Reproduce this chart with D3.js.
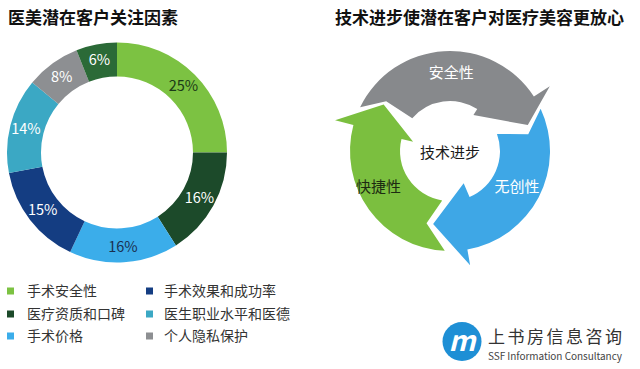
<!DOCTYPE html>
<html>
<head>
<meta charset="utf-8">
<script src="https://cdn.jsdelivr.net/npm/d3@7/dist/d3.min.js"></script>
<style>
  html, body { margin: 0; padding: 0; background: #ffffff; }
  svg { display: block; }
  text { font-family: "Noto Sans CJK SC", "Noto Sans", sans-serif; }
</style>
</head>
<body>
<svg id="chart" width="640" height="369"></svg>
<script>
// ---------- data ----------
const leftTitle = "医美潜在客户关注因素";
const rightTitle = "技术进步使潜在客户对医疗美容更放心";
const categories = ["手术安全性", "医疗资质和口碑", "手术价格", "手术效果和成功率", "医生职业水平和医德", "个人隐私保护", "其他"];
const values = [25, 16, 16, 15, 14, 8, 6];
const colors = ["#7cc242", "#1c4a2a", "#3badea", "#143d82", "#3ba8c4", "#8d8f92", "#2b6a37"];
const labelColors = ["#1b3a17", "#ffffff", "#1a3050", "#ffffff", "#ffffff", "#ffffff", "#ffffff"];
const legendOrder = [0, 3, 1, 4, 2, 5]; // two columns, row-major
const cycleLabels = ["安全性", "无创性", "快捷性"];
const cycleColors = ["#87898c", "#3ea7e6", "#7bbf3f"];
const cycleLabelColors = ["#ffffff", "#ffffff", "#1d2b12"];
const cycleCenterLabel = "技术进步";
const logoCn = "上书房信息咨询";
const logoEn = "SSF Information Consultancy";

const svg = d3.select("#chart");

// ---------- left: donut ----------
svg.append("text").attr("x", 8).attr("y", 24)
  .attr("font-size", 17).attr("font-weight", 700).attr("fill", "#111")
  .text(leftTitle);

const cx = 117, cy = 152.5, R = 110, r = 76;
const pie = d3.pie().sort(null).value(d => d)(values);
const arc = d3.arc().innerRadius(r).outerRadius(R);
const labelArc = d3.arc().innerRadius(94).outerRadius(94);
const g = svg.append("g").attr("transform", `translate(${cx},${cy})`);
g.selectAll("path.slice").data(pie).join("path")
  .attr("class", "slice")
  .attr("d", arc)
  .attr("fill", (d, i) => colors[i]);
g.selectAll("text.lbl").data(pie).join("text")
  .attr("class", "lbl")
  .attr("transform", d => `translate(${labelArc.centroid(d)})`)
  .attr("text-anchor", "middle").attr("dy", "0.36em")
  .attr("font-family", "'Open Sans', 'Noto Sans', sans-serif")
  .attr("font-size", 14.5)
  .attr("fill", (d, i) => labelColors[i])
  .text(d => d.data + "%");

// legend
const legX = [7, 146], legTextX = [27, 164], legY = [291, 314, 336];
legendOrder.forEach((ci, k) => {
  const col = k % 2, row = Math.floor(k / 2);
  svg.append("rect").attr("x", legX[col]).attr("y", legY[row] - 3.5)
    .attr("width", 7).attr("height", 7).attr("fill", colors[ci]);
  svg.append("text").attr("x", legTextX[col]).attr("y", legY[row])
    .attr("dy", "0.36em").attr("font-size", 14).attr("fill", "#333")
    .text(categories[ci]);
});

// ---------- right: cycle ----------
svg.append("text").attr("x", 335).attr("y", 24)
  .attr("font-size", 17).attr("font-weight", 700).attr("fill", "#111")
  .text(rightTitle);

const ccx = 450, ccy = 151, CR = 100, cr = 50;
// shape geometry per arrow (compass degrees, clockwise from north)
const shapes = [
  {tO: -64, tN: -52, tI: -49, tR: 81, hO: 57, hOR: 119, hT: 71.6, hTR: 82, hI: 33, hIR: 43},
  {tO: 65, tN: 78, tI: 70, tR: 80, hO: 170, hOR: 116, hT: 193, hTR: 75, hI: 157, hIR: 35},
  {tO: 183, tN: 198, tI: 189, tR: 76, hO: 285, hOR: 119, hT: 305, hTR: 81, hI: 284, hIR: 38}
];
const rad = a => a * Math.PI / 180;
const P = (a, rr) => [ccx + rr * Math.sin(rad(a)), ccy - rr * Math.cos(rad(a))];
const th = a => rad(a - 90);
shapes.forEach((s, i) => {
  const p = d3.path();
  p.moveTo(...P(s.tO, CR));
  p.arc(ccx, ccy, CR, th(s.tO), th(s.hO), false);
  p.lineTo(...P(s.hO, s.hOR));
  p.lineTo(...P(s.hT, s.hTR));
  p.lineTo(...P(s.hI, s.hIR));
  p.lineTo(...P(s.hI, cr));
  p.arc(ccx, ccy, cr, th(s.hI), th(s.tI), true);
  p.lineTo(...P(s.tN, s.tR));
  p.closePath();
  svg.append("path").attr("d", p.toString()).attr("fill", cycleColors[i]);
});
const labelPos = [{a: 1, r: 78}, {a: 118, r: 76}, {a: 243.5, r: 80}];
cycleLabels.forEach((t, i) => {
  const [x, y] = P(labelPos[i].a, labelPos[i].r);
  svg.append("text").attr("x", x).attr("y", y).attr("dy", "0.36em")
    .attr("text-anchor", "middle").attr("font-size", 15)
    .attr("fill", cycleLabelColors[i]).text(t);
});
svg.append("text").attr("x", ccx).attr("y", ccy + 2).attr("dy", "0.36em")
  .attr("text-anchor", "middle").attr("font-size", 15).attr("fill", "#1a1a1a")
  .text(cycleCenterLabel);

// ---------- logo ----------
svg.append("circle").attr("cx", 462).attr("cy", 341.5).attr("r", 19.5).attr("fill", "#1e8fd5");
svg.append("text").attr("x", 462).attr("y", 341.5).attr("dy", "0.33em")
  .attr("text-anchor", "middle").attr("font-family", "'DejaVu Serif', serif")
  .attr("font-style", "italic").attr("font-weight", 700)
  .attr("font-size", 28).attr("fill", "#ffffff").text("m");
svg.append("text").attr("x", 488).attr("y", 342.5).attr("font-size", 17)
  .attr("fill", "#333").attr("textLength", 134).text(logoCn);
svg.append("text").attr("x", 488).attr("y", 359.5).attr("font-size", 10)
  .attr("font-family", "'Liberation Sans', Arial, sans-serif")
  .attr("fill", "#444").attr("textLength", 134).text(logoEn);
</script>
</body>
</html>
